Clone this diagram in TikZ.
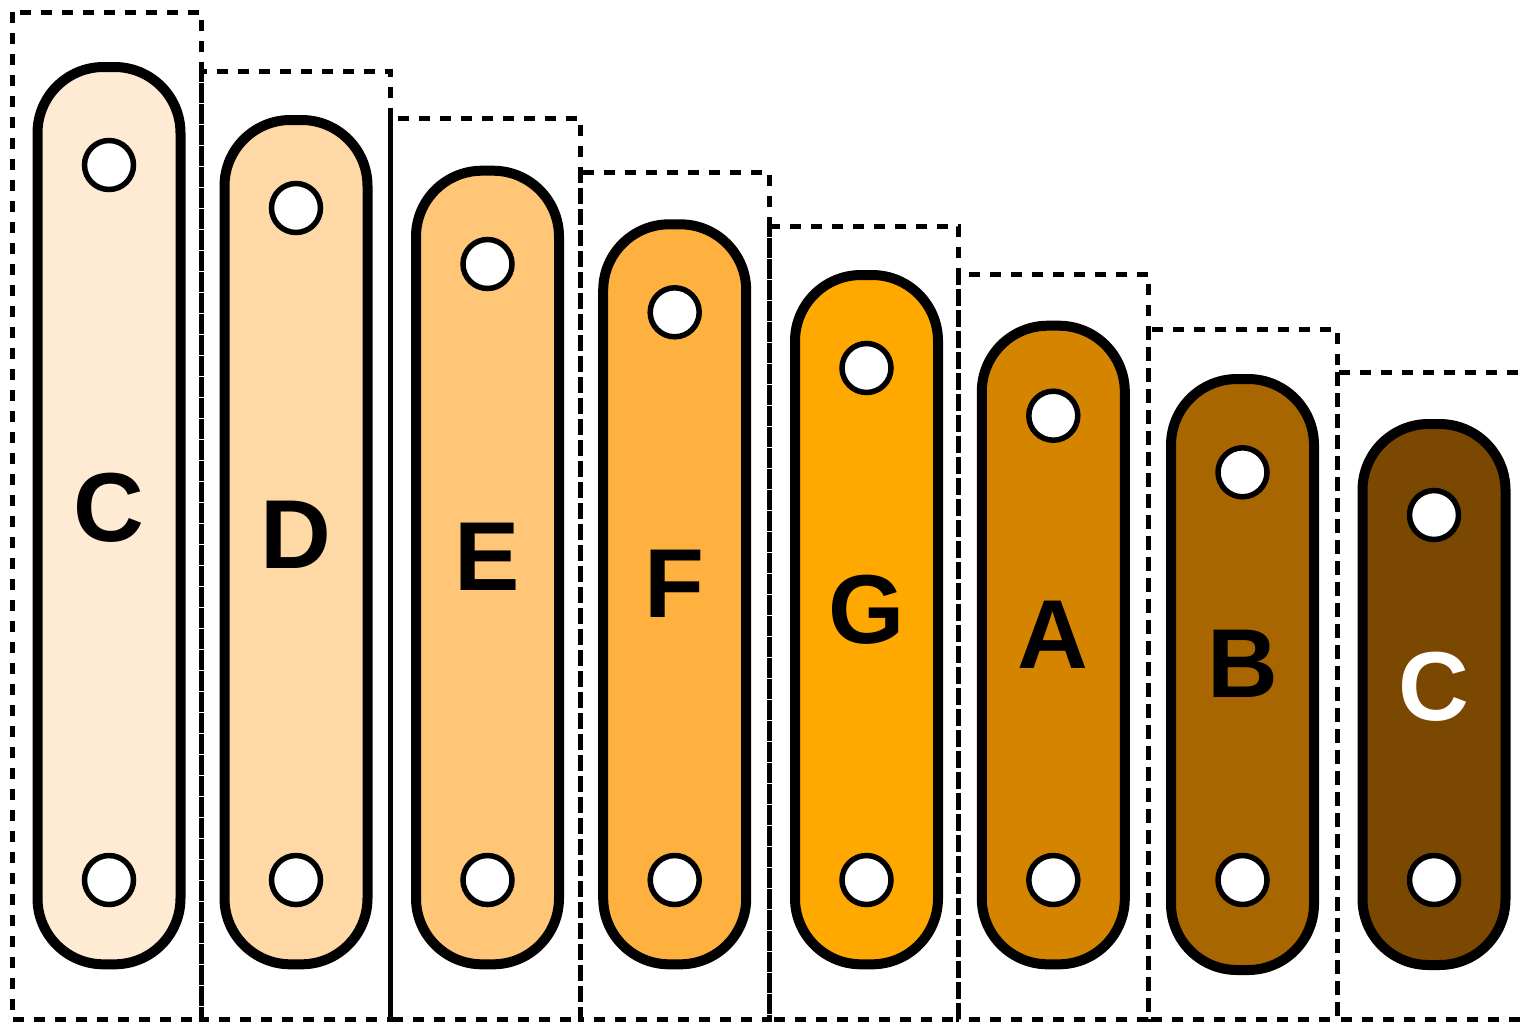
\documentclass[tikz,border=0pt]{standalone}
\usepackage{fontspec}
\setmainfont{Liberation Sans}
\definecolor{k1}{HTML}{FFEBD4}
\definecolor{k2}{HTML}{FED9A6}
\definecolor{k3}{HTML}{FFC677}
\definecolor{k4}{HTML}{FEB13E}
\definecolor{k5}{HTML}{FFA800}
\definecolor{k6}{HTML}{D58400}
\definecolor{k7}{HTML}{A86600}
\definecolor{k8}{HTML}{7A4800}
\begin{document}
\begin{tikzpicture}[x=1pt,y=-1pt,
  bar/.style={draw=black,line width=10pt,rounded corners=66pt,minimum width=143pt,inner sep=0pt,outer sep=0pt},
  hole/.style={circle,draw=black,fill=white,line width=5.5pt,minimum size=49pt,inner sep=0pt},
  frame/.style={draw=black,line width=5pt,dash pattern=on 11pt off 10pt},
  note/.style={font=\fontsize{98}{98}\selectfont\bfseries,anchor=base,inner sep=0pt}]
\useasboundingbox (0,0) rectangle (1520,1021);
\foreach \xl/\xr/\yt in {12/201/12, 201/390/71, 390/580/118, 580/769/172, 769/958/226, 958/1148/274, 1148/1337/329, 1337/1526/372}{
  \draw[frame] (\xl,\yt) rectangle (\xr,1019);
}
\foreach \i/\cx/\tp/\bt/\hy/\by/\col/\txt/\tc in {
  1/109/67/964.3/165/541/k1/C/black,
  2/296/120/964.3/208/568.3/k2/D/black,
  3/487.5/170.7/964.3/264/590.7/k3/E/black,
  4/674.7/224.3/964.3/312.3/617/k4/F/black,
  5/866.5/275/964.3/368/643.5/k5/G/black,
  6/1053.3/325.7/964.3/415.7/668.3/k6/A/black,
  7/1242.5/379/970/472.3/697.7/k7/B/black,
  8/1434/424/965/515/720/k8/C/white}{
  \pgfmathsetmacro{\cy}{(\tp+\bt)/2}
  \pgfmathsetmacro{\hh}{\bt-\tp}
  \node[bar,fill=\col,minimum height=\hh pt] (bar\i) at (\cx,\cy) {};
  \node[hole] (ht\i) at (\cx,\hy) {};
  \node[hole] (hb\i) at (\cx,880) {};
  \node[note,text=\tc] (lab\i) at (\cx,\by) {\txt};
}
\end{tikzpicture}
\end{document}
